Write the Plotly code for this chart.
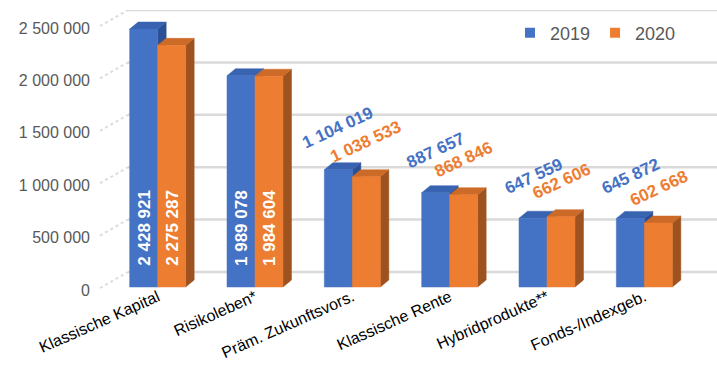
import plotly.graph_objects as go

categories = ["Klassische Kapital", "Risikoleben*", "Präm. Zukunftsvors.",
              "Klassische Rente", "Hybridprodukte**", "Fonds-/Indexgeb."]
values_2019 = [2428921, 1989078, 1104019, 887657, 647559, 645872]
values_2020 = [2275287, 1984604, 1038533, 868846, 662606, 602668]
series_names = ["2019", "2020"]
y_ticks = [0, 500000, 1000000, 1500000, 2000000, 2500000]

FONT = "Liberation Sans, Arial, sans-serif"
W, H = 717, 383
ML, MR, MT, MB = 109, 24, 10, 93
PW, PH = W - ML - MR, H - MT - MB

# scales
X_UNIT = PW / 6.0                 # px per category
LABEL_PX_PER_VAL = 104.8e-6       # tick-label axis scale
BAR_PX_PER_VAL = 106.2e-6         # bar axis scale (perspective front)
BAR_BASE_OFFSET_PX = 3            # bar base above plot bottom

bar_w = 28 / X_UNIT
depth_x = 8.5 / X_UNIT
depth_y = 7 / BAR_PX_PER_VAL

colors = {
    "2019": dict(front="#4472C4", side="#2B5093", top="#3863B0"),
    "2020": dict(front="#ED7D31", side="#9E521F", top="#CC6A27"),
}
offsets = {"2019": -bar_w / 2, "2020": bar_w / 2}
label_shift = {"2019": 42, "2020": 35}


def fmt(v):
    return f"{v:,}".replace(",", " ")


fig = go.Figure()

for name, vals in zip(series_names, [values_2019, values_2020]):
    off = offsets[name]
    fx, fy, sx, sy, tx, ty = [], [], [], [], [], []
    for i, v in enumerate(vals):
        xl = i + off - bar_w / 2
        xr = i + off + bar_w / 2
        fx += [xl, xr, xr, xl, xl, None]
        fy += [0, 0, v, v, 0, None]
        sx += [xr, xr + depth_x, xr + depth_x, xr, xr, None]
        sy += [0, depth_y, v + depth_y, v, 0, None]
        tx += [xl, xl + depth_x, xr + depth_x, xr, xl, None]
        ty += [v, v + depth_y, v + depth_y, v, v, None]
    c = colors[name]
    for xs, ys, col in [(sx, sy, c["side"]), (tx, ty, c["top"]), (fx, fy, c["front"])]:
        fig.add_trace(go.Scatter(
            x=xs, y=ys, mode="lines", fill="toself", fillcolor=col,
            line=dict(color=col, width=0.5), xaxis="x", yaxis="y2",
            showlegend=False, hoverinfo="skip"))

# legend entries
for name in series_names:
    fig.add_trace(go.Scatter(
        x=[None], y=[None], mode="markers", name=name, xaxis="x", yaxis="y2",
        marker=dict(symbol="square", size=10, color=colors[name]["front"])))

annotations = []
for name, vals in zip(series_names, [values_2019, values_2020]):
    off = offsets[name]
    for i, v in enumerate(vals):
        if v > 1500000:
            annotations.append(dict(
                x=i + off, y=0, xref="x", yref="y2", text=fmt(v),
                showarrow=False, textangle=-90, yshift=59,
                xanchor="center", yanchor="middle",
                font=dict(family=FONT, size=17, color="white", weight="bold")))
        else:
            annotations.append(dict(
                x=i + off, y=v, xref="x", yref="y2", text=fmt(v),
                showarrow=False, textangle=-25, yshift=label_shift[name],
                xanchor="center", yanchor="middle",
                font=dict(family=FONT, size=17, color=colors[name]["front"],
                          weight="bold")))

shapes = []
grid_x0 = (128 - ML) / PW
grid_x1 = (W - ML) / PW
tick_x0 = (100 - ML) / PW
for t in y_ticks:
    shapes.append(dict(type="line", xref="paper", yref="y", x0=grid_x0, x1=grid_x1,
                       ysizemode="pixel", yanchor=t, y0=18, y1=18,
                       line=dict(color="#DADADA", width=2.5), layer="below"))
    shapes.append(dict(type="line", xref="paper", yref="y", x0=tick_x0, x1=grid_x0,
                       ysizemode="pixel", yanchor=t, y0=2, y1=18,
                       line=dict(color="#DCDCDC", width=2, dash="dot"), layer="below"))

fig.update_layout(
    width=W, height=H,
    margin=dict(l=ML, r=MR, t=MT, b=MB, pad=0),
    paper_bgcolor="white", plot_bgcolor="white",
    separators=", ",
    font=dict(family=FONT, color="#595959"),
    xaxis=dict(range=[-0.5, 5.5], tickvals=list(range(len(categories))),
               ticktext=categories, tickangle=-24, showgrid=False,
               zeroline=False, showline=False, ticks="", ticklabelstandoff=-6,
               tickfont=dict(family=FONT, size=16, color="#000000")),
    yaxis=dict(range=[0, PH / LABEL_PX_PER_VAL], tickvals=y_ticks,
               tickformat=",d", showgrid=False, zeroline=False, showline=False,
               ticks="", ticklabelstandoff=18,
               tickfont=dict(family=FONT, size=16, color="#595959")),
    yaxis2=dict(range=[-BAR_BASE_OFFSET_PX / BAR_PX_PER_VAL,
                       (PH - BAR_BASE_OFFSET_PX) / BAR_PX_PER_VAL],
                overlaying="y", showgrid=False, zeroline=False,
                showticklabels=False, showline=False, ticks=""),
    legend=dict(orientation="h", x=(510 - ML) / PW, y=(H - MB - 33) / PH,
                xanchor="left", yanchor="middle", bgcolor="rgba(0,0,0,0)",
                font=dict(family=FONT, size=18, color="#595959"),
                itemclick=False),
    annotations=annotations,
    shapes=shapes,
    showlegend=True,
)

fig.write_html("out.html")
